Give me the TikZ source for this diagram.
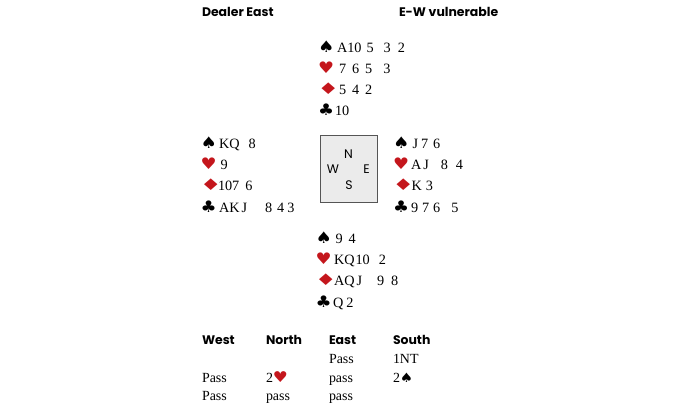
\documentclass[tikz,border=0pt]{standalone}
\usepackage{fontspec}
\setmainfont{Liberation Serif}
\newfontfamily\hdrfont{Poppins}
\newfontfamily\symfont{DejaVu Sans}
\newfontfamily\cmpfont{Poppins}
\definecolor{suitred}{HTML}{C4161C}
\definecolor{boxfill}{HTML}{EBEBEB}
\definecolor{boxline}{HTML}{555555}
\newcommand\gp[1]{\hspace{#1bp}}
\newcommand\Sp{{\symfont\scalebox{1.15}[1]{♠}}}
\newcommand\Hc{{\color{suitred}\symfont\scalebox{1.12}[1]{♥}}}
\newcommand\Dc{{\color{suitred}\symfont\scalebox{1.5}[1]{♦}}}
\newcommand\Cl{{\symfont\scalebox{1.12}[1]{♣}}}
\begin{document}
\begin{tikzpicture}[x=1bp,y=-1bp,
  every node/.style={inner sep=0pt,outer sep=0pt},
  hdr/.style={anchor=base west,font=\hdrfont\bfseries\fontsize{12.5}{14}\selectfont},
  cards/.style={anchor=base west,font=\fontsize{14.3}{16}\selectfont},
  suit/.style={anchor=base west,font=\fontsize{16}{18}\selectfont},
  bid/.style={anchor=base west,font=\fontsize{14}{16}\selectfont},
  cmp/.style={anchor=base,font=\cmpfont\fontsize{12.5}{14}\selectfont}]
\useasboundingbox (0,0) rectangle (700,413);
% header
\node[hdr] (dealer) at (202,16) {Dealer East};
\node[hdr] (vul) at (399,16) {E-W vulnerable};
% North
\node[suit] (ns) at (318,52) {\Sp};
\node[cards] (nst) at (337,52) {A10\gp{5}5\gp{10}3\gp{7}2};
\node[suit] (nh) at (318,73) {\Hc};
\node[cards] (nht) at (339,73) {7\gp{6}6\gp{6}5\gp{11}3};
\node[suit] (nd) at (317.5,94) {\Dc};
\node[cards] (ndt) at (339,94) {5\gp{6}4\gp{6}2};
\node[suit] (nc) at (318,115) {\Cl};
\node[cards] (nct) at (335,115) {10};
% West
\node[suit] (ws) at (200.5,148.5) {\Sp};
\node[cards] (wst) at (219,148.5) {KQ\gp{9}8};
\node[suit] (wh) at (200.5,169.5) {\Hc};
\node[cards] (wht) at (220.5,169.5) {9};
\node[suit] (wd) at (200,190.5) {\Dc};
\node[cards] (wdt) at (218,190.5) {107\gp{6}6};
\node[suit] (wc) at (200.5,212) {\Cl};
\node[cards] (wct) at (219,212) {AK\gp{2}J\gp{18}8\gp{5}4\gp{3}3};
% East
\node[suit] (es) at (393,148.5) {\Sp};
\node[cards] (est) at (412.5,148.5) {J\gp{3}7\gp{5}6};
\node[suit] (eh) at (393,169.5) {\Hc};
\node[cards] (eht) at (411,169.5) {A\gp{2}J\gp{12}8\gp{8}4};
\node[suit] (ed) at (392.5,190.5) {\Dc};
\node[cards] (edt) at (411.5,190.5) {K\gp{4}3};
\node[suit] (ec) at (393,212) {\Cl};
\node[cards] (ect) at (411,212) {9\gp{4}7\gp{4}6\gp{11}5};
% South
\node[suit] (ss) at (315.5,243) {\Sp};
\node[cards] (sst) at (335.5,243) {9\gp{6}4};
\node[suit] (sh) at (315.5,264) {\Hc};
\node[cards] (sht) at (334,264) {KQ\gp{1}10\gp{9}2};
\node[suit] (sd) at (315,285.5) {\Dc};
\node[cards] (sdt) at (334,285.5) {AQ\gp{2}J\gp{15}9\gp{7}8};
\node[suit] (sc) at (315.5,307) {\Cl};
\node[cards] (sct) at (333,307) {Q\gp{3}2};
% compass box
\node[draw=boxline,fill=boxfill,line width=0.8bp,minimum width=57bp,minimum height=67bp] (table) at (349,168.5) {};
\node[cmp] (cn) at (348.5,158.5) {N};
\node[cmp] (cw) at (333,173.5) {W};
\node[cmp] (ce) at (366.5,173.5) {E};
\node[cmp] (cs) at (349,189.5) {S};
% bidding
\node[hdr] (bw) at (202,344) {West};
\node[hdr] (bn) at (266,344) {North};
\node[hdr] (be) at (329,344) {East};
\node[hdr] (bs) at (393,344) {South};
\node[bid] (e1) at (329,363) {Pass};
\node[bid] (s1) at (393,363) {1NT};
\node[bid] (w2) at (202,382) {Pass};
\node[bid] (n2) at (266,382) {2{\fontsize{15}{16}\selectfont\Hc}};
\node[bid] (e2) at (329,382) {pass};
\node[bid] (s2) at (393,382) {2{\fontsize{13}{14}\selectfont\Sp}};
\node[bid] (w3) at (202,400) {Pass};
\node[bid] (n3) at (266,400) {pass};
\node[bid] (e3) at (329,400) {pass};
\end{tikzpicture}
\end{document}
